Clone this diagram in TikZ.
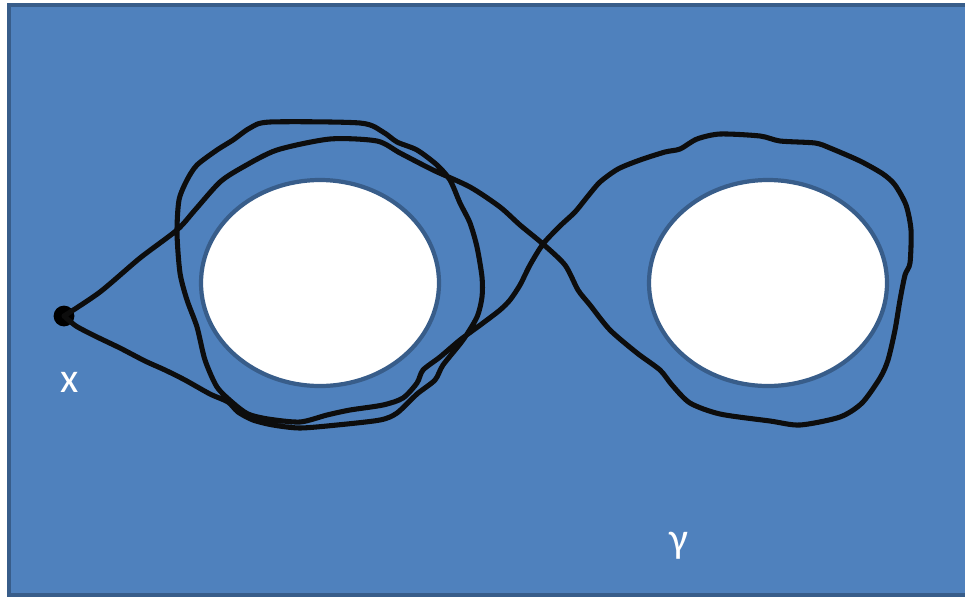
\documentclass[tikz,border=0pt]{standalone}
\usepackage{fontspec}
\setmainfont{Carlito}
\definecolor{planeblue}{HTML}{4F81BD}
\definecolor{edgeblue}{HTML}{385D8A}
\definecolor{pathblack}{HTML}{0D0D0D}
\begin{document}
\begin{tikzpicture}[x=0.025cm, y=-0.025cm,
                        plane/.style={
                            draw=edgeblue,
                            fill=planeblue,
                            line width=3pt
                        },
                        hole/.style={
                            draw=edgeblue,
                            fill=white,
                            line width=3pt
                        },
                        basept/.style={
                            circle,
                            fill=black,
                            minimum size=0.52cm,
                            inner sep=0pt
                        },
                        loop/.style={
                            draw=pathblack,
                            line width=3.6pt,
                            line join=round,
                            line cap=round
                        },
                        tag/.style={
                            text=white,
                            font=\fontsize{30}{32}\selectfont,
                            inner sep=0pt
                        }
                    ]
                    \useasboundingbox (0,0) rectangle (965,600);

                    % Plane (solid, runs past the right edge)
                    \draw[plane] (9,5) rectangle (985,595);

                    % Holes
                    \draw[hole] (320,283) ellipse [x radius=119, y radius=103];
                    \draw[hole] (768,283) ellipse [x radius=119, y radius=103];

                    % Base point and labels
                    \node[basept] (x) at (64,316) {};
                    \node[tag] (xlabel) at (70,382) {x};
                    \node[tag] (gamma) at (679,546) {γ};

                    % Loop gamma based at x
                    \draw[loop] plot[smooth, tension=0.45] coordinates {
                        (64,316) (100,292) (140,258) (177,230) (195,210)
                        (220,182) (243,167) (277,150) (330,139) (377,141)
                        (400,153) (433,170) (470,187) (500,207) (520,225)
                        (543,244) (565,265) (578,290) (590,305) (610,330)
                        (637,353) (660,370) (672,385) (690,403) (720,414)
                        (770,421) (800,425) (840,417) (862,403) (880,378)
                        (888,360) (895,330) (900,300) (905,275) (910,263)
                        (911,230) (906,205) (895,185) (883,174) (860,161)
                        (830,148) (815,143) (780,141) (760,136) (720,134)
                        (697,139) (680,149) (665,152) (640,160) (618,169)
                        (600,182) (588,196) (575,212) (560,226) (543,244)
                        (530,265) (520,285) (510,300) (500,310) (483,323)
                        (460,340) (440,357) (423,370) (417,383) (403,398)
                        (383,405) (350,410) (327,415) (300,422) (268,419)
                        (248,414) (233,403) (217,387) (205,360) (197,327)
                        (187,300) (180,273) (177,233) (179,200) (187,180)
                        (197,165) (217,150) (233,140) (250,128) (270,122)
                        (360,123) (383,132) (397,142) (417,150) (437,165)
                        (450,180) (460,203) (470,223) (477,247) (482,277)
                        (482,297) (477,317) (463,340) (443,365) (435,380)
                        (417,394) (397,413) (380,420) (337,425) (300,428)
                        (273,425) (253,420) (238,412) (228,402) (210,394)
                        (185,380) (165,370) (145,361) (120,348) (95,336)
                        (76,326) (64,316)
                    };
                    \end{tikzpicture}
\end{document}
